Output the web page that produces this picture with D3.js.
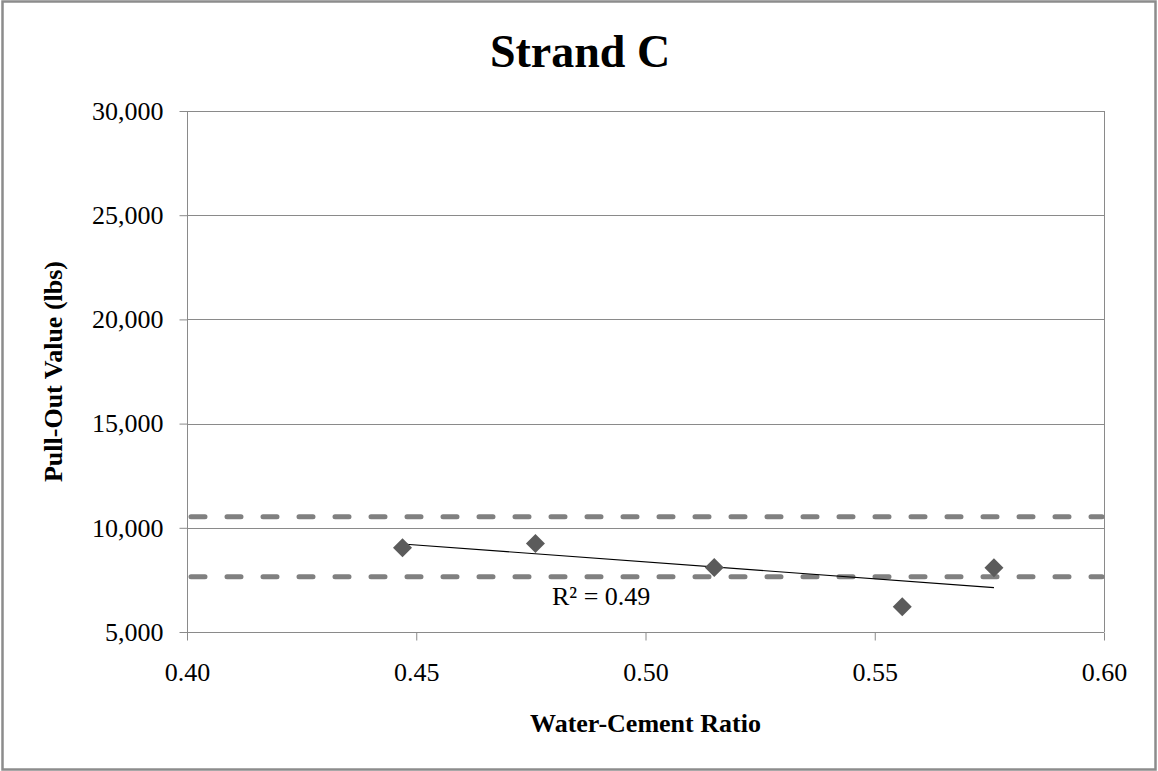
<!DOCTYPE html>
<html>
<head>
<meta charset="utf-8">
<script src="https://cdn.jsdelivr.net/npm/d3@7"></script>
<style>
  html, body { margin: 0; padding: 0; background: #fff; }
  svg { display: block; }
  svg text { font-family: 'Liberation Serif', 'Times New Roman', Times, 'DejaVu Serif', serif !important; }
</style>
</head>
<body>
<svg id="chart" width="1158" height="771"></svg>
<script>
// ---- data ----
const title = "Strand C";
const xLabel = "Water-Cement Ratio";
const yLabel = "Pull-Out Value (lbs)";
const wcRatio = [0.447, 0.476, 0.515, 0.556, 0.576];
const pullOut = [9040, 9250, 8100, 6210, 8080];
const refLines = [10530, 7650];
const xTicks = [0.40, 0.45, 0.50, 0.55, 0.60];
const yTicks = [5000, 10000, 15000, 20000, 25000, 30000];
const r2Label = "R\u00B2 = 0.49";

// ---- layout ----
const FONT = "'Liberation Serif', 'Times New Roman', Times, 'DejaVu Serif', serif";
const W = 1158, H = 771;
const plot = { left: 187, right: 1104, top: 111, bottom: 632 };
const svg = d3.select("#chart");

const x = d3.scaleLinear().domain([0.40, 0.60]).range([plot.left, plot.right]);
const y = d3.scaleLinear().domain([5000, 30000]).range([plot.bottom, plot.top]);

// outer border
svg.append("rect").attr("x", 2.5).attr("y", 1.5).attr("width", W - 5).attr("height", H - 3)
  .attr("fill", "#fff").attr("stroke", "#8c8c8c").attr("stroke-width", 2.5);

// title
svg.append("text").attr("x", 580).attr("y", 67).attr("text-anchor", "middle")
  .style("font-family", FONT)
  .attr("font-size", 46).attr("font-weight", "bold").text(title);

// gridlines
svg.append("g").selectAll("line").data(yTicks).join("line")
  .attr("x1", plot.left).attr("x2", plot.right)
  .attr("y1", d => Math.round(y(d)) + 0.5).attr("y2", d => Math.round(y(d)) + 0.5)
  .attr("stroke", "#8a8a8a").attr("stroke-width", 1);

// right border of plot area
svg.append("line").attr("x1", plot.right + 0.5).attr("x2", plot.right + 0.5)
  .attr("y1", plot.top).attr("y2", plot.bottom).attr("stroke", "#8a8a8a");

// axes
const fmtY = d3.format(",");
const yAxis = d3.axisLeft(y).tickValues(yTicks).tickFormat(fmtY).tickSize(8).tickPadding(16);
const xAxis = d3.axisBottom(x).tickValues(xTicks).tickFormat(d3.format(".2f")).tickSize(8).tickPadding(22);

const gy = svg.append("g").attr("transform", `translate(${plot.left + 0.5},0)`).call(yAxis);
const gx = svg.append("g").attr("transform", `translate(0,${plot.bottom + 0.5})`).call(xAxis);
[gx, gy].forEach(g => {
  g.attr("font-family", null).attr("font-size", null);
  g.selectAll(".domain").attr("stroke", "#8a8a8a");
  g.selectAll(".tick line").attr("stroke", "#8a8a8a");
  g.selectAll(".tick text").style("font-family", FONT)
    .attr("font-size", 26).attr("fill", "#000");
});
gx.select(".domain").attr("d", `M${plot.left},0H${plot.right}`);
gy.select(".domain").attr("d", `M0,${plot.top}V${plot.bottom}`);

// reference dashed lines
svg.append("g").selectAll("line").data(refLines).join("line")
  .attr("x1", plot.left + 4).attr("x2", plot.right - 2)
  .attr("y1", d => y(d)).attr("y2", d => y(d))
  .attr("stroke", "#808080").attr("stroke-width", 5)
  .attr("stroke-linecap", "round").attr("stroke-dasharray", "14,22");

// linear trendline (least squares)
const n = wcRatio.length;
const mx = d3.mean(wcRatio), my = d3.mean(pullOut);
let sxy = 0, sxx = 0;
for (let i = 0; i < n; i++) { sxy += (wcRatio[i] - mx) * (pullOut[i] - my); sxx += (wcRatio[i] - mx) ** 2; }
const slope = sxy / sxx, icpt = my - slope * mx;
const x0 = d3.min(wcRatio), x1 = d3.max(wcRatio);
svg.append("line")
  .attr("x1", x(x0)).attr("y1", y(icpt + slope * x0))
  .attr("x2", x(x1)).attr("y2", y(icpt + slope * x1))
  .attr("stroke", "#000").attr("stroke-width", 1.2);

// markers
const diamond = d3.symbol().type(d3.symbolDiamond2).size(230);
svg.append("g").selectAll("path").data(wcRatio.map((v, i) => [v, pullOut[i]])).join("path")
  .attr("d", diamond)
  .attr("transform", d => `translate(${x(d[0])},${y(d[1])})`)
  .attr("fill", "#5b5b5b");

// R² label
svg.append("text").attr("x", 552).attr("y", 605).style("font-family", FONT)
  .attr("font-size", 26).text(r2Label);

// axis titles
svg.append("text").attr("x", (plot.left + plot.right) / 2).attr("y", 732)
  .style("font-family", FONT)
  .attr("text-anchor", "middle").attr("font-size", 26).attr("font-weight", "bold").text(xLabel);
svg.append("text").attr("transform", `translate(62,${(plot.top + plot.bottom) / 2}) rotate(-90)`)
  .style("font-family", FONT)
  .attr("text-anchor", "middle").attr("font-size", 26).attr("font-weight", "bold").text(yLabel);
</script>
</body>
</html>
